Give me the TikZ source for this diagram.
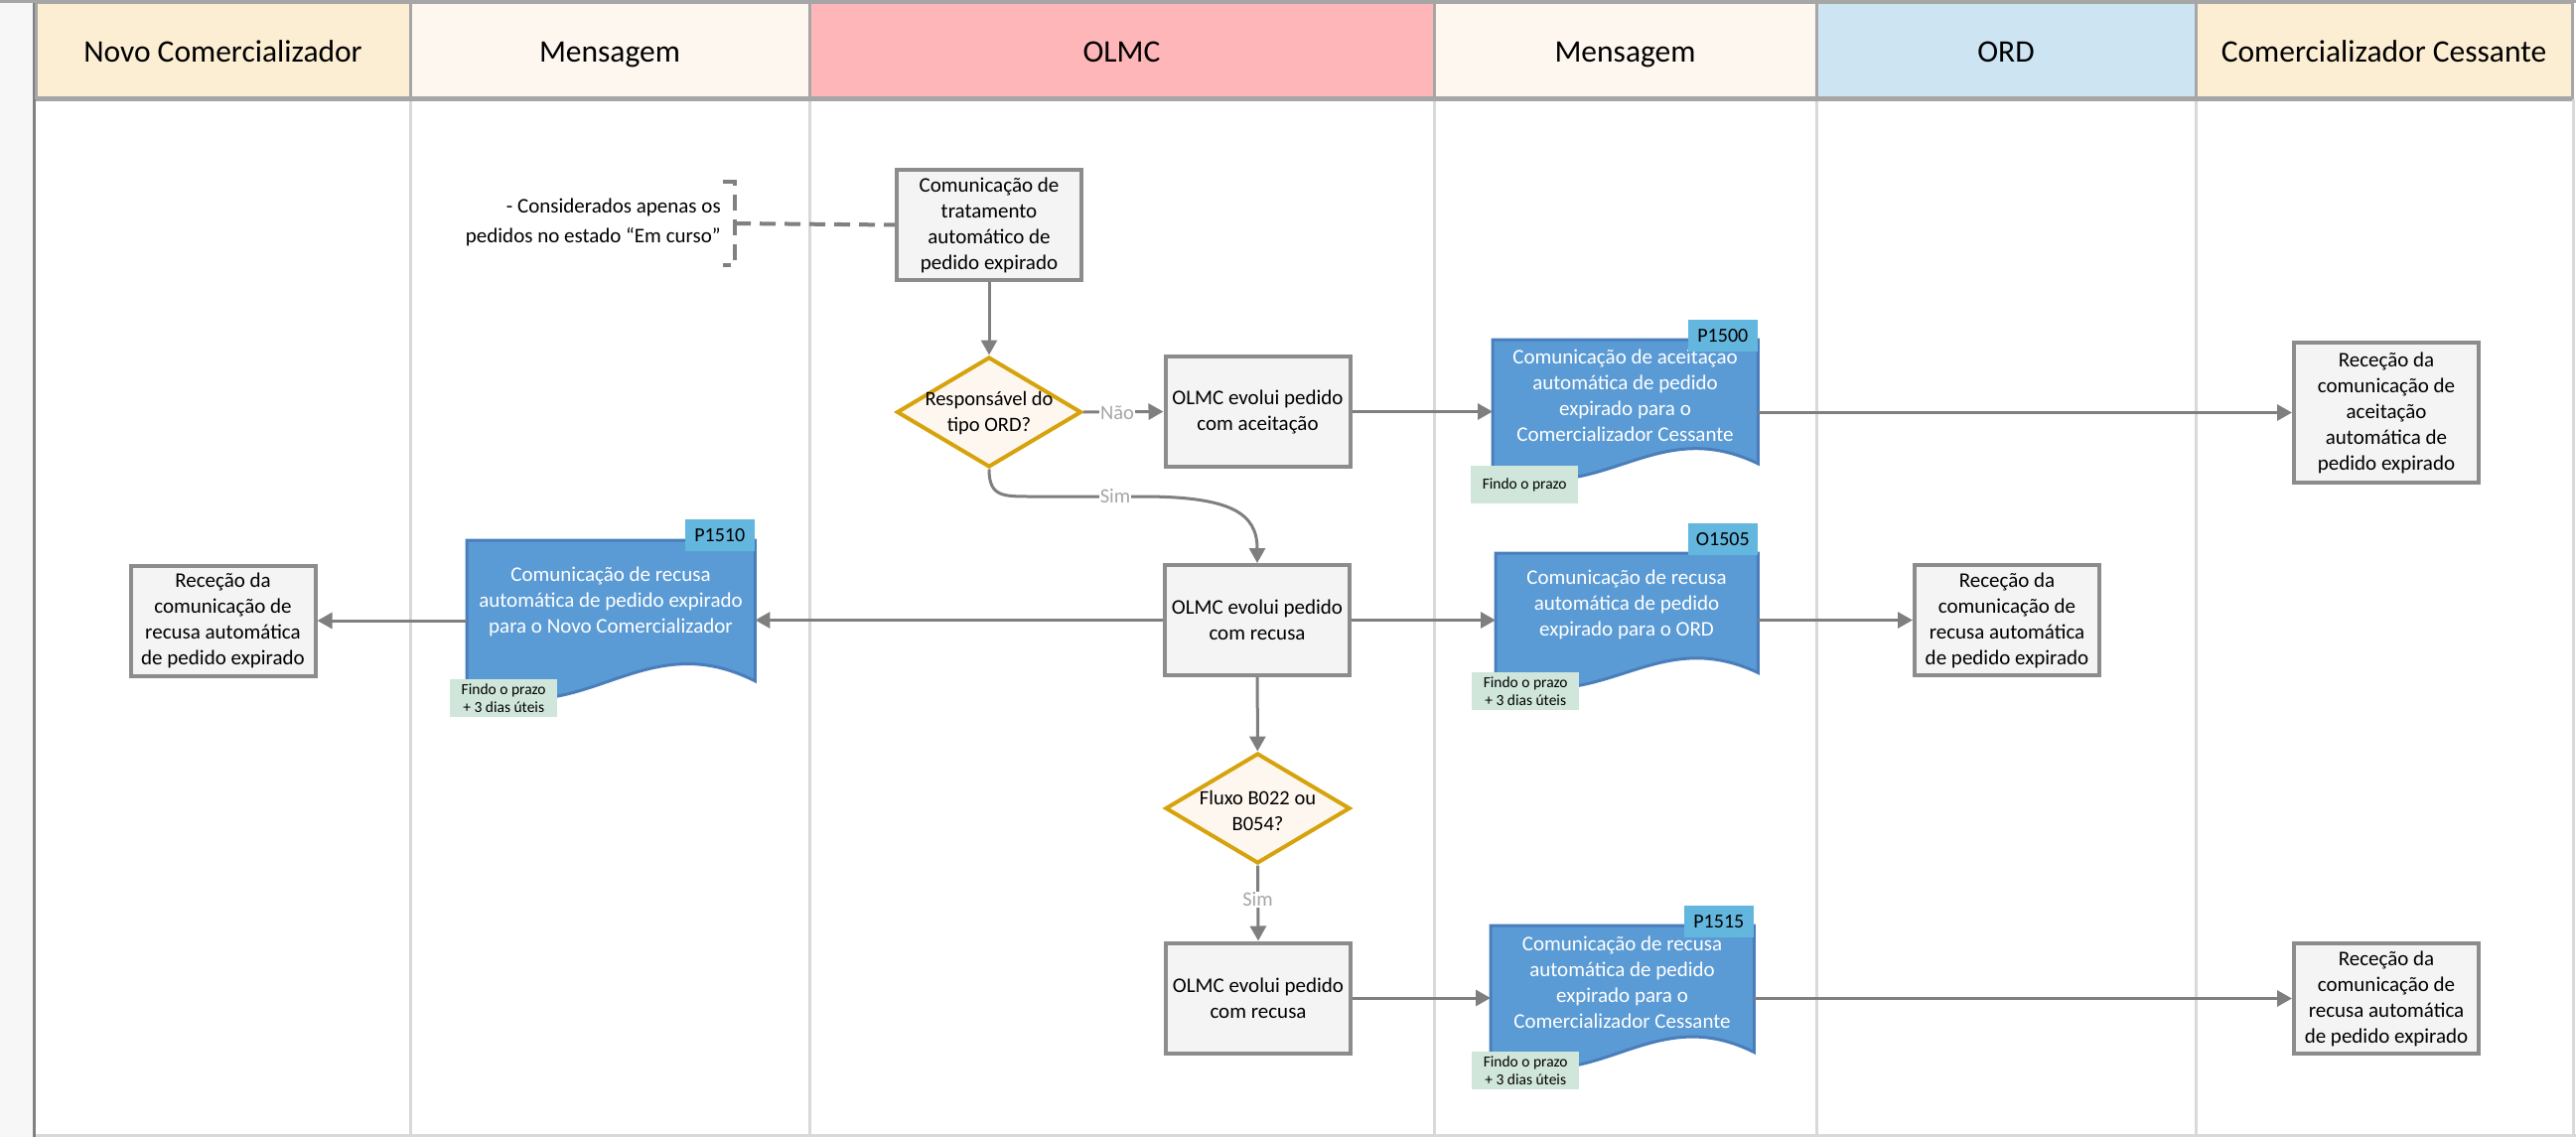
\documentclass[tikz,border=0pt]{standalone}
\usepackage{fontspec}
\setmainfont{Carlito}
\usetikzlibrary{shapes.geometric,arrows.meta,calc}
\definecolor{tanhead}{HTML}{FCEED3}
\definecolor{lighthead}{HTML}{FEF7F0}
\definecolor{pinkhead}{HTML}{FFB6B8}
\definecolor{bluehead}{HTML}{CDE5F3}
\definecolor{headline}{HTML}{A6A6A6}
\definecolor{lanegray}{HTML}{D9D9D9}
\definecolor{stripfill}{HTML}{F7F7F7}
\definecolor{darkline}{HTML}{808080}
\definecolor{boxfill}{HTML}{F4F4F4}
\definecolor{boxline}{HTML}{8C8C8C}
\definecolor{decfill}{HTML}{FEF7F0}
\definecolor{decline}{HTML}{D6A30C}
\definecolor{docblue}{HTML}{5B9BD5}
\definecolor{docline}{HTML}{4A7EBB}
\definecolor{tagblue}{HTML}{63B6DD}
\definecolor{greenbg}{HTML}{D0E6DB}
\definecolor{arrowgray}{HTML}{7F7F7F}
\definecolor{lblgray}{HTML}{A6A6A6}
\newcommand\docshape[1]{%
  \draw[docfill] let \p1=(#1.north west), \p2=(#1.south east) in
   (\x1,\y1) -- (\x2,\y1) -- (\x2,{\y1+0.89*(\y2-\y1)})
   .. controls ({\x1+0.6*(\x2-\x1)},{\y1+0.52*(\y2-\y1)}) and ({\x1+0.4*(\x2-\x1)},{\y1+1.24*(\y2-\y1)}) .. (\x1,{\y1+0.92*(\y2-\y1)}) -- cycle;}
\tikzset{
  headcell/.style={draw=headline, line width=3pt},
  headtext/.style={anchor=base, inner sep=0pt, font=\fontsize{31.5}{34}\selectfont},
  lanesep/.style={draw=lanegray, line width=3pt},
  proc/.style={draw=boxline, fill=boxfill, line width=4pt, minimum width=186pt, minimum height=111pt, inner sep=0pt, align=center, font=\fontsize{21}{26}\selectfont},
  dec/.style={diamond, draw=decline, fill=decfill, line width=4pt, minimum width=186pt, minimum height=111pt, inner sep=0pt},
  dectext/.style={align=center, inner sep=0pt, font=\fontsize{20.5}{26}\selectfont},
  docnode/.style={rectangle, inner sep=0pt, anchor=north west},
  docfill/.style={draw=docline, fill=docblue, line width=3pt},
  doctext/.style={text=white, align=center, inner sep=0pt, font=\fontsize{21}{26}\selectfont},
  tagbox/.style={fill=tagblue, inner sep=0pt, minimum width=70pt, minimum height=32pt, anchor=north east, font=\fontsize{20}{22}\selectfont},
  greentag/.style={fill=greenbg, inner sep=0pt, minimum width=108pt, minimum height=38pt, align=center, anchor=north west, font=\fontsize{15.5}{18}\selectfont},
  arr/.style={draw=arrowgray, line width=3pt, -{Triangle[length=15pt,width=16pt]}},
  lbl/.style={fill=white, text=lblgray, inner sep=1pt, font=\fontsize{20.5}{22}\selectfont},
  dashline/.style={draw=darkline, line width=4pt, dash pattern=on 16pt off 9pt},
}
\begin{document}
\begin{tikzpicture}[x=1pt,y=-1pt]
\useasboundingbox (0,0) rectangle (2594,1145);
% background strip and borders
\fill[stripfill] (0,0) rectangle (33,1145);
\draw[draw=darkline, line width=3pt] (34.5,0) -- (34.5,1145);
% header cells
\path[headcell, fill=tanhead] (36,3) rectangle (413,99);
\path[headcell, fill=lighthead] (413,3) rectangle (815,99);
\path[headcell, fill=pinkhead] (815,3) rectangle (1444,99);
\path[headcell, fill=lighthead] (1444,3) rectangle (1829,99);
\path[headcell, fill=bluehead] (1829,3) rectangle (2211,99);
\path[headcell, fill=tanhead] (2211,3) rectangle (2590,99);
\draw[draw=headline, line width=3pt] (0,1.5) -- (2594,1.5);
\draw[draw=headline, line width=4pt] (36,100) -- (2590,100);
\node[headtext] (h1) at (224.5,63) {Novo Comercializador};
\node[headtext] (h2) at (614,63) {Mensagem};
\node[headtext] (h3) at (1129.5,63) {OLMC};
\node[headtext] (h4) at (1636.5,63) {Mensagem};
\node[headtext] (h5) at (2020,63) {ORD};
\node[headtext] (h6) at (2400.5,63) {Comercializador Cessante};
% lane separators
\foreach \lx in {413,815,1444,1829,2211} {\draw[lanesep] (\lx,102) -- (\lx,1145);}
\draw[lanesep] (2591.5,100) -- (2591.5,1145);
\draw[lanesep] (36,1143.5) -- (2594,1143.5);

% OLMC process nodes
\node[proc] (top) at (996,226.5) {Comunicação de\\tratamento\\automático de\\pedido expirado};
\node[dec] (d1) at (996,415) {};
\node[dectext] (d1t) at (996,416) {Responsável do\\tipo ORD?};
\node[proc] (aceit) at (1266.5,414.5) {OLMC evolui pedido\\com aceitação};
\node[proc] (rec1) at (1266,624.5) {OLMC evolui pedido\\com recusa};
\node[dec] (d2) at (1266.5,814) {};
\node[dectext] (d2t) at (1266.5,816) {Fluxo B022 ou\\B054?};
\node[proc] (rec2) at (1267,1005) {OLMC evolui pedido\\com recusa};

% reception nodes
\node[proc, minimum height=141pt] (racc) at (2403,415.5) {Receção da\\comunicação de\\aceitação\\automática de\\pedido expirado};
\node[proc] (recl) at (224.5,625) {Receção da\\comunicação de\\recusa automática\\de pedido expirado};
\node[proc] (rord) at (2021,624.5) {Receção da\\comunicação de\\recusa automática\\de pedido expirado};
\node[proc] (rbr) at (2403,1005.5) {Receção da\\comunicação de\\recusa automática\\de pedido expirado};

% annotation
\node[anchor=east, align=right, inner sep=0pt, font=\fontsize{21}{30}\selectfont] (note) at (726,224) {- Considerados apenas os\\pedidos no estado “Em curso”};
\coordinate (brk) at (740,225);
\draw[dashline] (728,183) -- (740,183) -- (740,267) -- (728,267);
\draw[dashline] (brk) -- (top.west);

% documents
\node[docnode, minimum width=267pt, minimum height=140pt] (p1500) at (1503,342) {};
\docshape{p1500}
\node[doctext] (p1500t) at (1636.5,398) {Comunicação de aceitação\\automática de pedido\\expirado para o\\Comercializador Cessante};
\node[tagbox] (t1500) at (1770,322) {P1500};
\node[greentag] (g1500) at (1481,469) {Findo o prazo};

\node[docnode, minimum width=290pt, minimum height=159pt] (p1510) at (470,544) {};
\docshape{p1510}
\node[doctext] (p1510t) at (615,606) {Comunicação de recusa\\automática de pedido expirado\\para o Novo Comercializador};
\node[tagbox] (t1510) at (760,523) {P1510};
\node[greentag] (g1510) at (453,684) {Findo o prazo\\+ 3 dias úteis};

\node[docnode, minimum width=264pt, minimum height=135pt] (o1505) at (1506,557) {};
\docshape{o1505}
\node[doctext] (o1505t) at (1638,609) {Comunicação de recusa\\automática de pedido\\expirado para o ORD};
\node[tagbox] (t1505) at (1770,527) {O1505};
\node[greentag] (g1505) at (1482,677) {Findo o prazo\\+ 3 dias úteis};

\node[docnode, minimum width=265pt, minimum height=143pt] (p1515) at (1501,932) {};
\docshape{p1515}
\node[doctext] (p1515t) at (1633.5,989) {Comunicação de recusa\\automática de pedido\\expirado para o\\Comercializador Cessante};
\node[tagbox] (t1515) at (1766,912) {P1515};
\node[greentag] (g1515) at (1482,1059) {Findo o prazo\\+ 3 dias úteis};

% connectors
\draw[arr] (top) -- (d1);
\draw[arr] (d1.east) -- (aceit.west);
\node[lbl] (nao) at (1125,416) {Não};
\draw[arr] (aceit.east) -- (aceit.east -| p1500.west);
\draw[arr] (p1500.east |- racc.west) -- (racc.west);
\draw[arr] (d1.south) .. controls +(0,28) and +(-30,0) .. (1040,500) -- (1150,500) .. controls +(90,0) and +(0,-50) .. (rec1.north);
\node[lbl] (sim1) at (1123,500) {Sim};
\draw[arr] (rec1.west) -- (rec1.west -| p1510.east);
\draw[arr] (p1510.west |- recl.east) -- (recl.east);
\draw[arr] (rec1.east) -- (rec1.east -| o1505.west);
\draw[arr] (o1505.east |- rord.west) -- (rord.west);
\draw[arr] (rec1) -- (d2);
\draw[arr] (d2.south) -- (rec2.north);
\node[lbl] (sim2) at (1266.5,906) {Sim};
\draw[arr] (rec2.east) -- (rec2.east -| p1515.west);
\draw[arr] (p1515.east |- rbr.west) -- (rbr.west);
\end{tikzpicture}
\end{document}
